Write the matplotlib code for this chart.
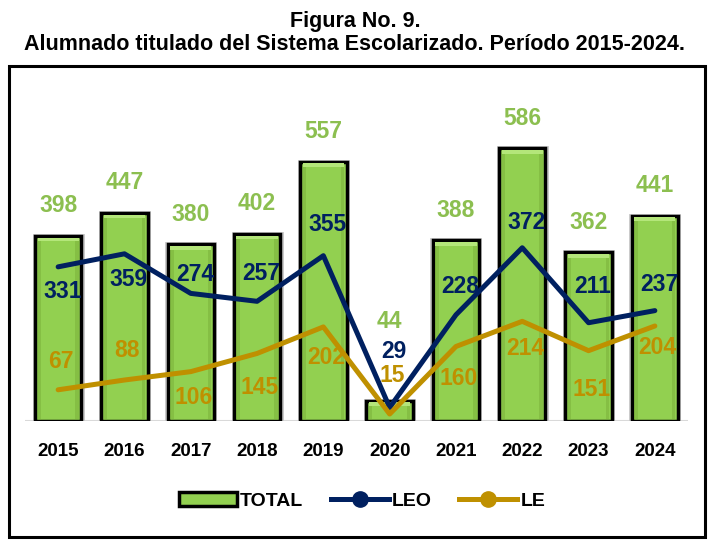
import matplotlib.pyplot as plt
from matplotlib.lines import Line2D
from matplotlib.patches import Rectangle, Patch

plt.rcParams['font.family'] = ['Liberation Sans', 'DejaVu Sans']
plt.rcParams['font.weight'] = 'bold'

years = ['2015', '2016', '2017', '2018', '2019', '2020', '2021', '2022', '2023', '2024']
total = [398, 447, 380, 402, 557, 44, 388, 586, 362, 441]
leo = [331, 359, 274, 257, 355, 29, 228, 372, 211, 237]
le = [67, 88, 106, 145, 202, 15, 160, 214, 151, 204]

# label offsets (pixels, + above / - below the point)
leo_off = [-25, -26, 19, 28, 31, 56, 28, 25, 36, 26]
le_off = [28, 30, -26, -34, -31, 39, -32, -27, -39, -22]

green = '#92D050'
navy = '#002060'
gold = '#BF9000'
green_txt = '#8CBF50'

fig = plt.figure(figsize=(7.1, 5.4), dpi=100)
ax = fig.add_axes([25 / 710, 119 / 540, 663 / 710, 326 / 540])

x = list(range(len(years)))
# bevelled look: shadow, main bar, light top, darker sides
ax.bar(x, total, width=0.71, color='none', edgecolor='#C8C8C8', linewidth=3.5, zorder=1)
ax.bar(x, total, width=0.70, color=green, edgecolor='black', linewidth=2.5, zorder=2)
for xi, t in zip(x, total):
    ax.add_patch(Rectangle((xi - 0.31, t - 12), 0.62, 8, color='#B4E67A', lw=0, zorder=3))
    ax.add_patch(Rectangle((xi - 0.31, 4), 0.05, t - 16, color='#7DB43C', lw=0, zorder=3, alpha=0.6))
    ax.add_patch(Rectangle((xi + 0.26, 4), 0.05, t - 16, color='#7DB43C', lw=0, zorder=3, alpha=0.6))

ax.plot(x, leo, color=navy, linewidth=3.6, zorder=4, solid_capstyle='round')
ax.plot(x, le, color=gold, linewidth=3.6, zorder=4, solid_capstyle='round')

ax.axhline(0, color='#D9D9D9', linewidth=1.5, zorder=0)

for xi, t in zip(x, total):
    off = 30 if t > 100 else 79
    ax.annotate(str(t), (xi, t), xytext=(0, off * 0.72), textcoords='offset points',
                ha='center', va='center', fontsize=16.5, color=green_txt, zorder=6)
for xi, v, o in zip(x, leo, leo_off):
    ax.annotate(str(v), (xi, v), xytext=(3, o * 0.72), textcoords='offset points',
                ha='center', va='center', fontsize=16.5, color=navy, zorder=6)
for xi, v, o in zip(x, le, le_off):
    ax.annotate(str(v), (xi, v), xytext=(2, o * 0.72), textcoords='offset points',
                ha='center', va='center', fontsize=16.5, color=gold, zorder=6)

ax.set_xlim(-0.5, len(years) - 0.5)
ax.set_ylim(0, 700)
ax.set_xticks(x)
ax.set_xticklabels(years, fontsize=13.5)
ax.tick_params(axis='x', length=0, pad=16)
ax.set_yticks([])
for s in ax.spines.values():
    s.set_visible(False)

handles = [
    Patch(facecolor=green, edgecolor='black', linewidth=2.5),
    Line2D([0], [0], color=navy, linewidth=3.6, marker='o', markersize=11),
    Line2D([0], [0], color=gold, linewidth=3.6, marker='o', markersize=11),
]
fig.legend(handles, ['TOTAL', 'LEO', 'LE'], loc='center', bbox_to_anchor=(362 / 710, 1 - 501 / 540),
           ncol=3, frameon=False, fontsize=14, handlelength=3.0, handletextpad=0.15,
           columnspacing=1.4)

fig.patches.append(Rectangle((9 / 710, 3 / 540), 696 / 710, 471 / 540, transform=fig.transFigure,
                             fill=False, edgecolor='black', linewidth=2.2))

fig.text(0.5, 1 - 21 / 540, 'Figura No. 9.', ha='center', va='center', fontsize=15.5)
fig.text(0.5, 1 - 45 / 540, 'Alumnado titulado del Sistema Escolarizado. Período 2015-2024.',
         ha='center', va='center', fontsize=15.5)

fig.savefig('out.png', dpi=100)
